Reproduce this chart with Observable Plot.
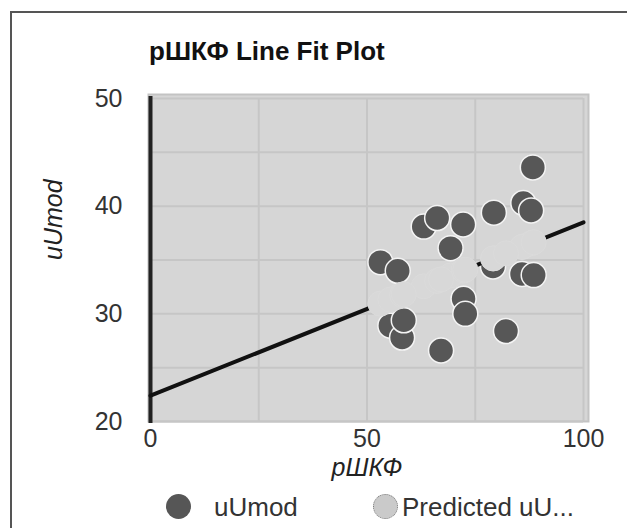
<!DOCTYPE html>
<html>
<head>
<meta charset="utf-8">
<script src="https://cdn.jsdelivr.net/npm/d3@7"></script>
<script src="https://cdn.jsdelivr.net/npm/@observablehq/plot@0.6"></script>
<style>
  body { margin: 0; background: #fff; font-family: "Liberation Sans", Arial, sans-serif; }
  #wrap { position: relative; width: 627px; height: 528px; overflow: hidden; }
  #frame { position: absolute; left: 10px; top: 11px; width: 700px; height: 600px; border: 2px solid #555; }
  #title { position: absolute; left: 149px; top: 38px; font-size: 26px; line-height: 26px; font-weight: bold; color: #111; white-space: nowrap; }
  #plot { position: absolute; left: 0; top: 80px; }
  .leg { position: absolute; font-size: 26px; line-height: 26px; color: #333; white-space: nowrap; }
  .sw { position: absolute; width: 25px; height: 25px; border-radius: 50%; box-sizing: border-box; }
</style>
</head>
<body>
<div id="wrap">
  <div id="frame"></div>
  <div id="title">pШКФ Line Fit Plot</div>
  <div id="plot"></div>
  <div class="sw" style="left:166px; top:494px; background:#565656;"></div>
  <div class="leg" style="left:214px; top:494px;">uUmod</div>
  <div class="sw" style="left:373px; top:494px; background:#cacaca; border:1.5px dotted #7a7a7a;"></div>
  <div class="leg" style="left:402px; top:494px;">Predicted uU...</div>
</div>
<script>
// observed data (pШКФ, uUmod)
const pShkf = [88.3, 86.1, 87.9, 79.3, 63.1, 66.2, 72.2, 69.3, 53.1, 57.1, 79.1, 85.8, 88.5, 72.3, 72.7, 55.4, 58.1, 58.5, 82.1, 67.1];
const uUmod = [43.6, 40.3, 39.6, 39.4, 38.1, 38.9, 38.3, 36.1, 34.8, 34.0, 34.4, 33.7, 33.6, 31.4, 30.0, 28.9, 27.8, 29.4, 28.4, 26.6];
// predicted values
const predicted = [36.62, 36.26, 36.55, 35.17, 32.56, 33.06, 34.02, 33.56, 30.95, 31.59, 35.14, 36.21, 36.65, 34.04, 34.10, 31.32, 31.75, 31.82, 35.62, 33.20];
// fit line end points
const fitX = [0, 100];
const fitY = [22.4, 38.5];
// ticks
const xTicks = [0, 50, 100];
const xGrid = [0, 25, 50, 75, 100];
const yTicks = [20, 30, 40, 50];
const yGrid = [20, 25, 30, 35, 40, 45, 50];

const obs = pShkf.map((x, i) => ({x, y: uUmod[i]}));
const pred = pShkf.map((x, i) => ({x, y: predicted[i]}));
const fit = fitX.map((x, i) => ({x, y: fitY[i]}));

const chart = Plot.plot({
  width: 627,
  height: 410,
  marginTop: 18,
  marginBottom: 69,
  marginLeft: 150,
  marginRight: 44,
  style: {fontFamily: "'Liberation Sans', Arial, sans-serif", background: "transparent", overflow: "visible"},
  x: {domain: [0, 100]},
  y: {domain: [20, 50]},
  marks: [
    Plot.frame({fill: "#d6d6d6", stroke: "#c3c3c3", strokeWidth: 2, insetTop: -4, insetRight: -5, insetLeft: -2}),
    Plot.gridX(xGrid, {stroke: "#c6c6c6", strokeOpacity: 1, strokeWidth: 2}),
    Plot.gridY(yGrid, {stroke: "#c6c6c6", strokeOpacity: 1, strokeWidth: 2}),
    Plot.axisX(xTicks, {tickSize: 0, tickPadding: 8, fontSize: 25, fill: "#333", label: null}),
    Plot.axisY(yTicks, {tickSize: 0, tickPadding: 28, fontSize: 25, fill: "#333", label: null}),
    Plot.ruleX([0], {stroke: "#222", strokeWidth: 4, insetTop: -2, insetBottom: -2}),
    Plot.dot(obs, {x: "x", y: "y", r: 12.5, fill: "#575757", stroke: "#f4f4f4", strokeWidth: 1.5}),
    Plot.line(fit, {x: "x", y: "y", stroke: "#111", strokeWidth: 4}),
    Plot.dot(pred, {x: "x", y: "y", r: 12.5, fill: "#d8d8d8", stroke: "#dbdbdb", strokeWidth: 1}),
    Plot.text(["uUmod"], {frameAnchor: "left", dx: -97, rotate: -90, fontSize: 25, fontStyle: "italic", fill: "#222"}),
    Plot.text(["pШКФ"], {frameAnchor: "bottom", dy: 54, fontSize: 25, fontStyle: "italic", fill: "#222"})
  ]
});
document.getElementById("plot").appendChild(chart);
</script>
</body>
</html>
